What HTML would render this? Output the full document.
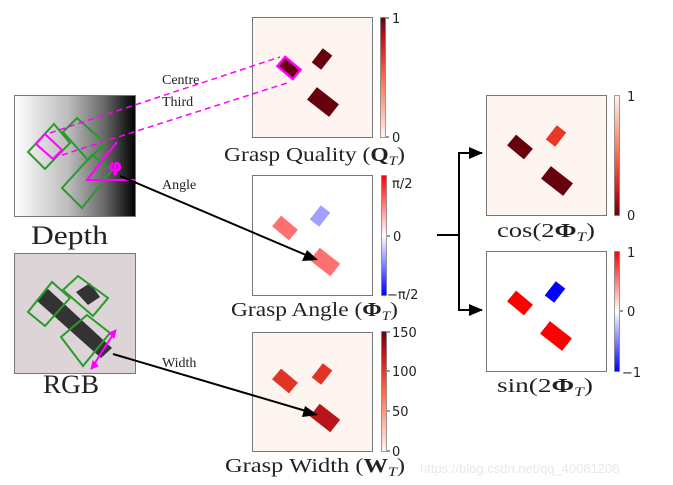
<!DOCTYPE html>
<html><head><meta charset="utf-8"><style>
html,body{margin:0;padding:0;background:#fff;}
svg{display:block;}
.s{font-family:"Liberation Serif","DejaVu Serif",serif;fill:#222;}
.t{font-family:"DejaVu Sans","Liberation Sans",sans-serif;fill:#222;font-size:13px;}
</style></head><body>
<svg width="673" height="485" viewBox="0 0 673 485" xmlns="http://www.w3.org/2000/svg">
<defs>
<linearGradient id="dg" x1="0" x2="1" y1="0" y2="0"><stop offset="0" stop-color="#fff"/><stop offset="0.45" stop-color="#bbb"/><stop offset="0.75" stop-color="#666"/><stop offset="1" stop-color="#000"/></linearGradient>
<linearGradient id="reds" x1="0" x2="0" y1="1" y2="0"><stop offset="0" stop-color="#fff5f0"/><stop offset="0.5" stop-color="#fb6a4a"/><stop offset="0.8" stop-color="#cb181d"/><stop offset="1" stop-color="#67000d"/></linearGradient>
<linearGradient id="redsr" x1="0" x2="0" y1="0" y2="1"><stop offset="0" stop-color="#fff5f0"/><stop offset="0.5" stop-color="#fb6a4a"/><stop offset="0.8" stop-color="#cb181d"/><stop offset="1" stop-color="#67000d"/></linearGradient>
<linearGradient id="bwr" x1="0" x2="0" y1="1" y2="0"><stop offset="0" stop-color="#0000ff"/><stop offset="0.5" stop-color="#fff"/><stop offset="1" stop-color="#ff0000"/></linearGradient>
</defs>

<!-- Depth -->
<rect x="14.5" y="95.5" width="121" height="121" fill="url(#dg)" stroke="#777"/>
<g fill="none" stroke="#2a9a2a" stroke-width="2">
<polygon points="28,152 54,124 70,143 45,169"/>
<polygon points="63,132 77,118 105,143 88,160"/>
<polygon points="62,188 92,155 112,170 82,208"/>
</g>
<polygon points="36,144 45,134 62,150 53,159" fill="none" stroke="#ff00ff" stroke-width="2"/>
<polyline points="117,142 87,180 135,180" fill="none" stroke="#ff00ff" stroke-width="2"/>
<text x="108" y="172" font-family="DejaVu Sans,sans-serif" font-weight="bold" font-size="18" fill="#ff00ff">φ</text>
<text class="s" x="31" y="244" font-size="26" textLength="77" lengthAdjust="spacingAndGlyphs">Depth</text>

<!-- RGB -->
<rect x="14.5" y="253.5" width="121" height="120" fill="#ddd4d8" stroke="#777"/>
<polygon points="36,300 48,289 112,348 101,358" fill="#333"/>
<polygon points="76,292 90,283 100,297 88,305" fill="#333"/>
<g fill="none" stroke="#2a9a2a" stroke-width="2">
<polygon points="28,312 52,282 70,298 45,326"/>
<polygon points="63,290 78,276 108,298 93,316"/>
<polygon points="61,337 87,315 110,333 83,366"/>
</g>
<line x1="93" y1="366" x2="114" y2="333" stroke="#ff00ff" stroke-width="2"/>
<path d="M91,369 l2,-8 l5,5z M116,330 l-2,8 l-5,-5z" fill="#ff00ff" stroke="#ff00ff"/>
<text class="s" x="43" y="393" font-size="26" textLength="56" lengthAdjust="spacingAndGlyphs">RGB</text>

<!-- Quality -->
<rect x="252.5" y="17.5" width="120" height="120" fill="#fff5f0" stroke="#777"/>
<rect x="-10" y="-6" width="20" height="12" transform="translate(289,68) rotate(40)" fill="#67000d" stroke="#ff00ff" stroke-width="2.5"/>
<rect x="-9" y="-6" width="18" height="12" transform="translate(322,59) rotate(-52)" fill="#67000d"/>
<rect x="-14" y="-8" width="28" height="16" transform="translate(323,102) rotate(38)" fill="#67000d"/>
<rect x="380.5" y="17.5" width="5" height="120" fill="url(#reds)" stroke="#777" stroke-width="0.7"/>
<line x1="386" y1="18" x2="389" y2="18" stroke="#333"/><line x1="386" y1="137" x2="389" y2="137" stroke="#333"/>
<text class="t" x="392" y="23">1</text><text class="t" x="392" y="142">0</text>
<text class="s" x="224" y="161" font-size="20" textLength="181" lengthAdjust="spacingAndGlyphs">Grasp Quality (<tspan font-weight="bold">Q</tspan><tspan font-style="italic" font-size="13" dy="4">T</tspan><tspan dy="-4">)</tspan></text>

<!-- Angle -->
<rect x="252.5" y="175.5" width="120" height="120" fill="#fff" stroke="#777"/>
<rect x="-11" y="-7" width="22" height="14" transform="translate(285,228) rotate(40)" fill="#ff7070"/>
<rect x="-9" y="-6" width="18" height="12" transform="translate(320,216) rotate(-52)" fill="#a0a0ff"/>
<rect x="-13" y="-8" width="26" height="16" transform="translate(325,262) rotate(38)" fill="#ff7070"/>
<rect x="381.5" y="175.5" width="5" height="120" fill="url(#bwr)" stroke="#777" stroke-width="0.7"/>
<line x1="387" y1="236" x2="390" y2="236" stroke="#333"/>
<text class="t" x="392" y="188">π/2</text><text class="t" x="393" y="241">0</text><text class="t" x="387" y="299">−π/2</text>
<text class="s" x="231" y="316" font-size="20" textLength="167" lengthAdjust="spacingAndGlyphs">Grasp Angle (<tspan font-weight="bold">Φ</tspan><tspan font-style="italic" font-size="13" dy="4">T</tspan><tspan dy="-4">)</tspan></text>

<!-- Width -->
<rect x="252.5" y="332.5" width="120" height="119" fill="#fff5f0" stroke="#777"/>
<rect x="-11" y="-7" width="22" height="14" transform="translate(285,381) rotate(40)" fill="#e03526"/>
<rect x="-9" y="-6" width="18" height="12" transform="translate(322,374) rotate(-52)" fill="#e03526"/>
<rect x="-13" y="-8" width="26" height="16" transform="translate(325,418) rotate(38)" fill="#b8141a"/>
<rect x="381.5" y="331.5" width="5" height="120" fill="url(#reds)" stroke="#777" stroke-width="0.7"/>
<g stroke="#333"><line x1="387" y1="332" x2="390" y2="332"/><line x1="387" y1="371" x2="390" y2="371"/><line x1="387" y1="411" x2="390" y2="411"/><line x1="387" y1="451" x2="390" y2="451"/></g>
<text class="t" x="392" y="337">150</text><text class="t" x="392" y="376">100</text><text class="t" x="392" y="416">50</text><text class="t" x="392" y="456">0</text>
<text class="s" x="225" y="472" font-size="20" textLength="180" lengthAdjust="spacingAndGlyphs">Grasp Width (<tspan font-weight="bold">W</tspan><tspan font-style="italic" font-size="13" dy="4">T</tspan><tspan dy="-4">)</tspan></text>

<!-- cos -->
<rect x="486.5" y="95.5" width="120" height="120" fill="#fff5f0" stroke="#777"/>
<rect x="-11" y="-7" width="22" height="14" transform="translate(520,147) rotate(40)" fill="#67000d"/>
<rect x="-9" y="-6" width="18" height="12" transform="translate(556,136) rotate(-52)" fill="#e83828"/>
<rect x="-14" y="-8" width="28" height="16" transform="translate(557,181) rotate(38)" fill="#67000d"/>
<rect x="614.5" y="95.5" width="5" height="120" fill="url(#redsr)" stroke="#777" stroke-width="0.7"/>
<text class="t" x="627" y="101">1</text><text class="t" x="627" y="220">0</text>
<text class="s" x="497" y="237" font-size="20" textLength="98" lengthAdjust="spacingAndGlyphs">cos(2<tspan font-weight="bold">Φ</tspan><tspan font-style="italic" font-size="13" dy="4">T</tspan><tspan dy="-4">)</tspan></text>

<!-- sin -->
<rect x="486.5" y="251.5" width="120" height="120" fill="#fff" stroke="#777"/>
<rect x="-11" y="-7" width="22" height="14" transform="translate(520,303) rotate(40)" fill="#ff0000"/>
<rect x="-9" y="-6" width="18" height="12" transform="translate(555,292) rotate(-52)" fill="#0000ff"/>
<rect x="-14" y="-8" width="28" height="16" transform="translate(556,336) rotate(38)" fill="#ff0000"/>
<rect x="614.5" y="251.5" width="5" height="120" fill="url(#bwr)" stroke="#777" stroke-width="0.7"/>
<line x1="620" y1="311" x2="623" y2="311" stroke="#333"/>
<text class="t" x="627" y="257">1</text><text class="t" x="627" y="316">0</text><text class="t" x="622" y="377">−1</text>
<text class="s" x="497" y="392" font-size="20" textLength="96" lengthAdjust="spacingAndGlyphs">sin(2<tspan font-weight="bold">Φ</tspan><tspan font-style="italic" font-size="13" dy="4">T</tspan><tspan dy="-4">)</tspan></text>

<!-- connectors -->
<line x1="50" y1="133" x2="280" y2="57" stroke="#ff00ff" stroke-width="1.5" stroke-dasharray="6,4"/>
<line x1="62" y1="155" x2="290" y2="82" stroke="#ff00ff" stroke-width="1.5" stroke-dasharray="6,4"/>
<line x1="120" y1="176" x2="306" y2="255" stroke="#000" stroke-width="2"/>
<path d="M318,260 L302,261 L307,250Z" fill="#000"/>
<line x1="113" y1="354" x2="306" y2="411" stroke="#000" stroke-width="2"/>
<path d="M318,415 L302,417 L305,406Z" fill="#000"/>
<polyline points="437,235 459,235" fill="none" stroke="#000" stroke-width="2"/>
<polyline points="482,153 459,153 459,310 482,310" fill="none" stroke="#000" stroke-width="2"/>
<path d="M469,147 L483,153 L469,159Z M469,304 L483,310 L469,316Z" fill="#000"/>

<text class="s" x="162" y="84" font-size="14">Centre</text>
<text class="s" x="162" y="106" font-size="14">Third</text>
<text class="s" x="162" y="189" font-size="14">Angle</text>
<text class="s" x="162" y="367" font-size="14">Width</text>
<text x="420" y="473" font-family="Liberation Sans,sans-serif" font-size="13" fill="#e8e8e8">https://blog.csdn.net/qq_40081208</text>
</svg>
</body></html>
